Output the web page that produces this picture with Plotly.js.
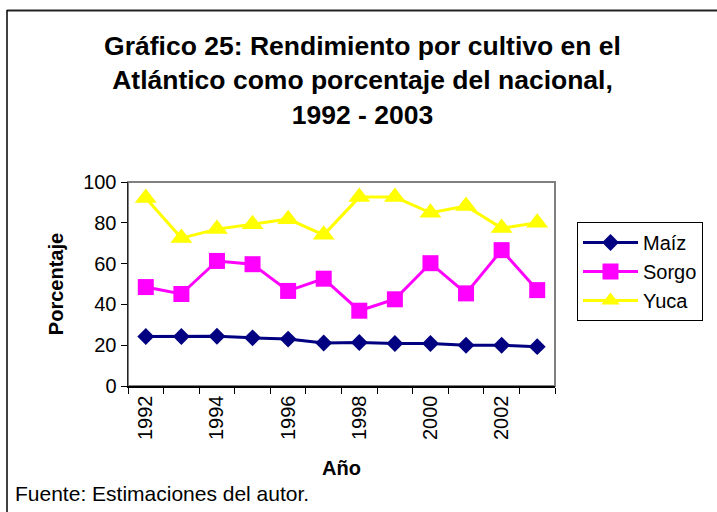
<!DOCTYPE html>
<html>
<head>
<meta charset="utf-8">
<script src="https://cdn.plot.ly/plotly-3.0.1.min.js"></script>
<style>
html,body{margin:0;padding:0;background:#fff;}
#chart{width:717px;height:512px;}
</style>
</head>
<body>
<div id="chart"></div>
<script>
const years = [1992,1993,1994,1995,1996,1997,1998,1999,2000,2001,2002,2003];
const yearLabels = ["1992","","1994","","1996","","1998","","2000","","2002",""];
const maiz  = [24.3,24.3,24.4,23.6,23.0,21.1,21.3,20.8,20.8,20.0,20.0,19.3];
const sorgo = [48.5,45.1,61.3,59.7,46.6,52.6,36.9,42.5,60.2,45.4,66.6,47.0];
const yuca  = [92.1,72.5,76.9,79.3,81.8,74.1,92.6,92.6,84.9,88.2,77.4,80.0];
const seriesNames = ["Maíz","Sorgo","Yuca"];
const yTicks = [0,20,40,60,80,100];

const L = 128, R = 555, T = 182, B = 386, W = 717, H = 512;
const px = v => (v - L) / (R - L);
const py = v => (B - v) / (B - T);

const font = "Liberation Sans, Arial, sans-serif";

const traces = [
  {x: years, y: maiz, name: seriesNames[0], type: "scatter", mode: "lines+markers",
   line: {color: "#000080", width: 3}, marker: {symbol: "diamond", size: 13, color: "#000080"}},
  {x: years, y: sorgo, name: seriesNames[1], type: "scatter", mode: "lines+markers",
   line: {color: "#FF00FF", width: 3}, marker: {symbol: "square", size: 16, color: "#FF00FF"}},
  {x: years, y: yuca, name: seriesNames[2], type: "scatter", mode: "lines+markers",
   line: {color: "#FFFF00", width: 3}, marker: {symbol: "triangle-up", size: 19, color: "#FFFF00"}}
];

const layout = {
  width: W, height: H,
  margin: {l: L, r: W - R, t: T, b: H - B, pad: 0},
  paper_bgcolor: "#fff", plot_bgcolor: "#fff",
  font: {family: font, size: 20, color: "#000"},
  showlegend: true,
  title: {
    text: "<b>Gráfico 25: Rendimiento por cultivo en el<br>Atlántico como porcentaje del nacional,<br>1992 - 2003</b>",
    font: {family: font, size: 26.5, color: "#000"},
    x: 362.5 / W, xref: "container", xanchor: "center",
    y: 1 - 55 / H, yref: "container", yanchor: "top"
  },
  xaxis: {
    type: "category",
    range: [-0.5, years.length - 0.5],
    tickvals: years, ticktext: yearLabels,
    tickson: "boundaries",
    ticks: "outside", ticklen: 6, tickcolor: "#000", tickwidth: 1,
    tickangle: -90,
    tickfont: {family: font, size: 20, color: "#000"},
    showline: true, linecolor: "#000", linewidth: 1.5,
    showgrid: false, zeroline: false,
    title: {text: "<b>Año</b>", font: {family: font, size: 20, color: "#000"}, standoff: 22}
  },
  yaxis: {
    range: [0, 100], tickvals: yTicks,
    ticks: "outside", ticklen: 6, tickcolor: "#000", tickwidth: 1,
    tickfont: {family: font, size: 20, color: "#000"},
    showline: true, linecolor: "#222", linewidth: 1.5,
    showgrid: false, zeroline: false,
    title: {text: "<b>Porcentaje</b>", font: {family: font, size: 20, color: "#000"}, standoff: 14}
  },
  legend: {
    x: px(577), y: py(222), xanchor: "left", yanchor: "top",
    bgcolor: "#fff", bordercolor: "#000", borderwidth: 1,
    font: {family: font, size: 20, color: "#000"},
    itemwidth: 55,
    tracegroupgap: 0
  },
  shapes: [
    {type: "rect", xref: "paper", yref: "paper", x0: 0, x1: 1, y0: 0, y1: 1,
     line: {color: "#808080", width: 2}, layer: "below"},
    {type: "line", xref: "paper", yref: "paper", x0: px(7), x1: px(717), y0: py(10.5), y1: py(10.5),
     line: {color: "#222", width: 2}},
    {type: "line", xref: "paper", yref: "paper", x0: px(7), x1: px(7), y0: py(10), y1: py(512),
     line: {color: "#000", width: 1.5}}
  ],
  annotations: [
    {text: "Fuente: Estimaciones del autor.", xref: "paper", yref: "paper",
     x: px(13), y: py(493), xanchor: "left", yanchor: "middle", showarrow: false,
     font: {family: font, size: 21, color: "#000"}}
  ]
};

Plotly.newPlot("chart", traces, layout, {displayModeBar: false, staticPlot: true});
</script>
</body>
</html>
